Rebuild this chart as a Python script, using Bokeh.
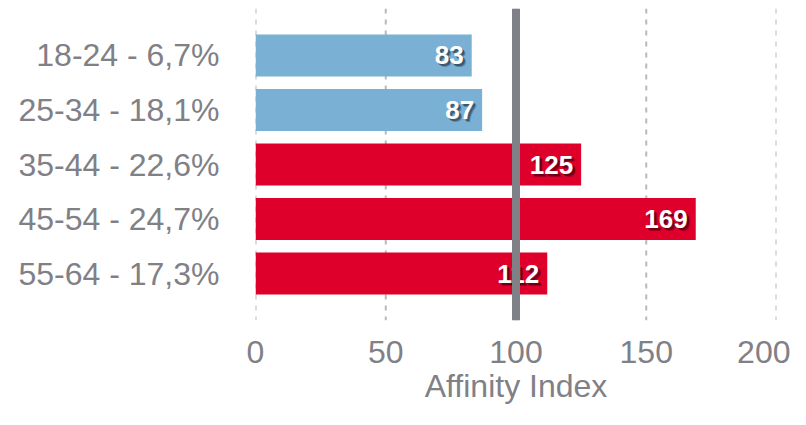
from bokeh.plotting import figure
from bokeh.models import ColumnDataSource, FactorRange, Range1d, Span, FixedTicker
from bokeh.core.properties import value
from bokeh.embed import file_html
from bokeh.resources import INLINE

categories = ["18-24 - 6,7%", "25-34 - 18,1%", "35-44 - 22,6%", "45-54 - 24,7%", "55-64 - 17,3%"]
affinity = [83, 87, 125, 169, 112]
colors = ["#7AB0D4", "#7AB0D4", "#DE002B", "#DE002B", "#DE002B"]
x_ticks = [0, 50, 100, 150, 200]
reference = 100
x_title = "Affinity Index"

FONT = "Liberation Sans"
GRAY = "#808086"

src = ColumnDataSource(dict(cat=categories, val=affinity, color=colors,
                            label=[str(v) for v in affinity]))

p = figure(width=790, height=409, output_backend="svg", toolbar_location=None,
           y_range=FactorRange(factors=list(reversed(categories)), range_padding=0.144),
           x_range=Range1d(0, 200),
           min_border_left=255, min_border_right=14, min_border_top=8, min_border_bottom=89)
p.outline_line_color = None
p.background_fill_color = "white"
p.border_fill_color = "white"

# dashed vertical gridlines at every tick (including the range ends)
for t in x_ticks:
    p.add_layout(Span(location=t, dimension="height", line_color="#b8b8b8", line_width=2,
                      line_dash="5 6", level="underlay"))

p.hbar(y="cat", right="val", left=0, height=0.77, color="color", line_color=None, source=src)

# label shadows
for dx, dy, a in [(-5, 3, 0.25), (-6, 2, 0.35)]:
    p.text(x="val", y="cat", text="label", source=src, x_offset=dx, y_offset=dy,
           text_align="right", text_baseline="middle", text_color="black", text_alpha=a,
           text_font=value(FONT), text_font_style="bold", text_font_size="26px")
p.text(x="val", y="cat", text="label", source=src, x_offset=-8, y_offset=0,
       text_align="right", text_baseline="middle", text_color="white",
       text_font=value(FONT), text_font_style="bold", text_font_size="26px")

p.add_layout(Span(location=reference, dimension="height", line_color="#808087", line_width=8))

p.xgrid.visible = False
p.ygrid.visible = False
p.xaxis.ticker = FixedTicker(ticks=x_ticks)

for ax in (p.xaxis[0], p.yaxis[0]):
    ax.axis_line_color = None
    ax.major_tick_line_color = None
    ax.minor_tick_line_color = None
    ax.major_label_text_font = FONT
    ax.major_label_text_font_size = "32px"
    ax.major_label_text_color = GRAY

p.yaxis.major_label_standoff = 30
p.xaxis.major_label_standoff = 14
p.xaxis.axis_label = x_title
p.xaxis.axis_label_text_font = FONT
p.xaxis.axis_label_text_font_size = "32px"
p.xaxis.axis_label_text_font_style = "normal"
p.xaxis.axis_label_text_color = GRAY
p.xaxis.axis_label_standoff = 2

open("out.html", "w").write(file_html(p, INLINE))
